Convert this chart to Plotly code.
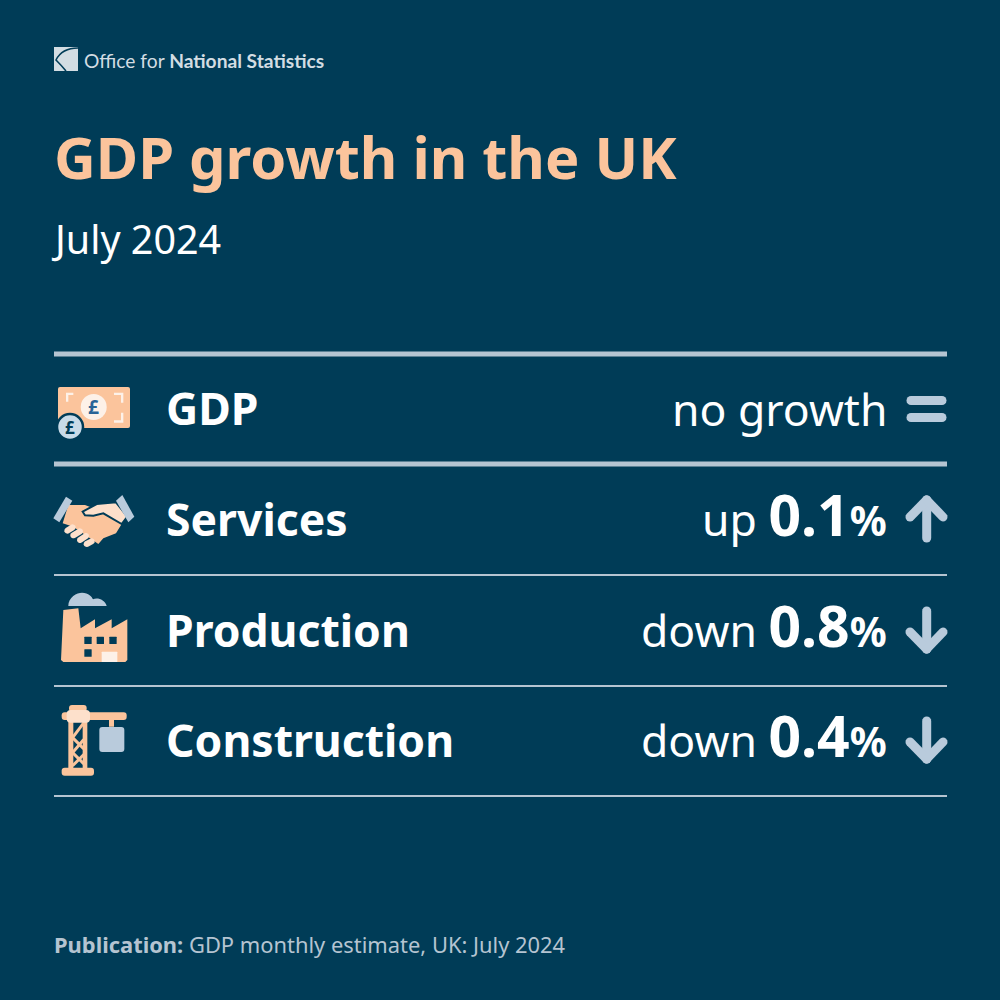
import math
import plotly.graph_objects as go

# chart content
categories = ['GDP', 'Services', 'Production', 'Construction']
directions = ['no growth', 'up', 'down', 'down']
changes = [None, 0.1, 0.8, 0.4]
title = 'GDP growth in the UK'
period = 'July 2024'

BG = '#003c57'
PEACH = '#fbc49c'
PALE = '#fde0cb'
CREAM = '#fdf1e8'
BLUE = '#b9cbdc'
RULE = '#b5c4d1'
FONT = 'Noto Sans'

row_mid = [409, 520, 631, 741]
rules = [(354, 5), (464, 5), (575, 2), (686, 2), (796, 2)]

fig = go.Figure()
shapes = []


def add_path(d, fill, line=None, width=0):
    shapes.append(dict(type='path', path=d, fillcolor=fill, xref='x', yref='y', layer='above',
                       line=dict(color=line or fill, width=width)))


def poly(pts, ox, oy, s, fill, line=None, width=0):
    d = 'M' + ' L'.join(f'{ox + x * s:.2f},{oy + y * s:.2f}' for x, y in pts) + ' Z'
    add_path(d, fill, line, width)


def capsule(x0, y0, x1, y1, w, fill):
    # stroke with round ends, drawn as a polygon
    ang = math.atan2(y1 - y0, x1 - x0)
    pts = []
    for cx, cy, start in ((x1, y1, ang - math.pi / 2), (x0, y0, ang + math.pi / 2)):
        for i in range(9):
            a = start + math.pi * i / 8
            pts.append((cx + w / 2 * math.cos(a), cy + w / 2 * math.sin(a)))
    poly(pts, 0, 0, 1, fill)


def rrect(x0, y0, x1, y1, r, fill):
    add_path(f'M{x0 + r},{y0} L{x1 - r},{y0} Q{x1},{y0} {x1},{y0 + r} L{x1},{y1 - r} Q{x1},{y1} {x1 - r},{y1} '
             f'L{x0 + r},{y1} Q{x0},{y1} {x0},{y1 - r} L{x0},{y0 + r} Q{x0},{y0} {x0 + r},{y0} Z', fill)


def circle(cx, cy, r, fill, line=None, width=0):
    shapes.append(dict(type='circle', x0=cx - r, x1=cx + r, y0=cy - r, y1=cy + r, xref='x', yref='y',
                       fillcolor=fill, layer='above', line=dict(color=line or fill, width=width)))


# rules
for y, w in rules:
    shapes.append(dict(type='line', x0=54, x1=947, y0=y, y1=y, xref='x', yref='y',
                       line=dict(color=RULE, width=w)))

# logo
rrect(54, 47, 78, 71, 0.5, '#d3dde3')
add_path('M78,48 Q62,48 56,60 Q62,66 66,71', 'rgba(0,0,0,0)', BG, 1.6)
add_path('M54,47 L60,47 Q57,50 54,54 Z', '#d3dde3')

# banknote
rrect(58, 387, 130, 428, 2, PEACH)
for pts in ([(78, 68), (100, 68), (100, 75), (85, 75), (85, 95), (78, 95)],
            [(222, 68), (250, 68), (250, 98), (243, 98), (243, 75), (222, 75)],
            [(243, 128), (250, 128), (250, 158), (222, 158), (222, 151), (243, 151)]):
    poly(pts, 40, 370, 1 / 3, CREAM)
circle(93.7, 407, 13, CREAM)
circle(70, 427, 13, '#c9dbe8', BG, 2.5)
for cx, cy, size, col in ((93.7, 407, 19, '#2a6496'), (70, 427, 17, BG)):
    fig.add_annotation(x=cx, y=cy, text='<b>£</b>', showarrow=False, xanchor='center', yanchor='middle',
                       font=dict(family=FONT, size=size, color=col))

# handshake
poly([(85, 405), (135, 405), (200, 430), (245, 462), (228, 490), (190, 505), (175, 522), (150, 505),
      (100, 470), (68, 460)], 40, 370, 1 / 3, PEACH)
poly([(128, 425), (170, 402), (228, 397), (262, 440), (245, 462), (190, 430), (160, 437), (135, 436)],
     40, 370, 1 / 3, PALE, BG, 2)
poly([(40, 445), (78, 380), (97, 392), (58, 457)], 40, 370, 1 / 3, BLUE)
poly([(228, 392), (247, 375), (283, 440), (265, 457)], 40, 370, 1 / 3, BLUE)
for a, b in (((82, 482), (98, 472)), ((100, 496), (120, 484)), ((120, 510), (138, 498)), ((140, 522), (155, 514))):
    capsule(40 + a[0] / 3, 370 + a[1] / 3, 40 + b[0] / 3, 370 + b[1] / 3, 6, PALE)

# factory
add_path('M68.3,606 C68.3,597 77,592.7 82,592.7 C88.7,592.7 92,597 93,599.3 C97,597 105,599.3 106.7,606 Z', BLUE)
poly([(70, 90), (115, 85), (122, 145), (165, 118), (165, 145), (215, 118), (215, 145), (262, 118),
      (262, 240), (256, 246), (70, 246), (63, 240)], 40, 580, 1 / 3, PEACH)
for x0, y0 in ((133, 170), (170, 170), (208, 170), (133, 208)):
    rrect(40 + x0 / 3, 580 + y0 / 3, 40 + (x0 + 22) / 3, 580 + (y0 + 22) / 3, 0.5, BG)
rrect(40 + 185 / 3, 580 + 215 / 3, 40 + 232 / 3, 580 + 246 / 3, 0.5, CREAM)

# crane
rrect(40 + 85 / 3, 580 + 420 / 3, 40 + 100 / 3, 580 + 570 / 3, 0, PEACH)
rrect(40 + 128 / 3, 580 + 420 / 3, 40 + 142 / 3, 580 + 570 / 3, 0, PEACH)
for a, b in (((100, 470), (130, 430)), ((100, 475), (130, 505)), ((100, 555), (130, 525)), ((100, 515), (130, 480)), ((100, 520), (130, 550))):
    capsule(40 + a[0] / 3, 580 + a[1] / 3, 40 + b[0] / 3, 580 + b[1] / 3, 3, PEACH)
rrect(40 + 65 / 3, 580 + 563 / 3, 40 + 162 / 3, 580 + 587 / 3, 3, PEACH)
rrect(40 + 65 / 3, 580 + 397 / 3, 40 + 260 / 3, 580 + 420 / 3, 3, PEACH)
rrect(40 + 87 / 3, 580 + 375 / 3, 40 + 140 / 3, 580 + 395 / 3, 3, PEACH)
rrect(40 + 80 / 3, 580 + 390 / 3, 40 + 150 / 3, 580 + 428 / 3, 4, PALE)
rrect(40 + 207 / 3, 580 + 420 / 3, 40 + 222 / 3, 580 + 440 / 3, 0, PEACH)
rrect(40 + 178 / 3, 580 + 441 / 3, 40 + 253 / 3, 580 + 516 / 3, 3, BLUE)

# direction marks and row text
for cat, word, val, y in zip(categories, directions, changes, row_mid):
    fig.add_annotation(x=164, y=y - 2, text=f'<b>{cat}</b>', showarrow=False, xanchor='left', yanchor='middle',
                       font=dict(family=FONT, size=44.5, color='white'))
    if val is None:
        fig.add_annotation(x=889, y=y - 1, text=word, showarrow=False, xanchor='right', yanchor='middle',
                           font=dict(family=FONT, size=44.5, color='white'))
    else:
        label = (f'{word} <b><span style="font-size:57px">{val}</span>'
                 f'<span style="font-size:41px">%</span></b>')
        fig.add_annotation(x=889, y=y - 6, text=label, showarrow=False, xanchor='right', yanchor='middle',
                           font=dict(family=FONT, size=44.5, color='white'))
    if word == 'up':
        capsule(926.7, y - 20, 926.7, y + 18, 9, BLUE)
        capsule(926.7, y - 20, 910, y - 3, 9, BLUE)
        capsule(926.7, y - 20, 943, y - 3, 9, BLUE)
    elif word == 'down':
        capsule(926.7, y - 20, 926.7, y + 18, 9, BLUE)
        capsule(926.7, y + 18, 910, y + 1, 9, BLUE)
        capsule(926.7, y + 18, 943, y + 1, 9, BLUE)
    else:
        capsule(911, y - 8.5, 942, y - 8.5, 9, BLUE)
        capsule(911, y + 8.5, 942, y + 8.5, 9, BLUE)

# heading, logo text, footer
fig.add_annotation(x=82, y=60, text='Office for <b>National Statistics</b>', showarrow=False, xanchor='left',
                   yanchor='middle', font=dict(family='Lato', size=19.2, color='#d3dde3'))
fig.add_annotation(x=52, y=156, text=f'<b>{title}</b>', showarrow=False, xanchor='left', yanchor='middle',
                   font=dict(family=FONT, size=57.8, color=PEACH))
fig.add_annotation(x=49, y=239, text=period, showarrow=False, xanchor='left', yanchor='middle',
                   font=dict(family=FONT, size=39.5, color='white'))
fig.add_annotation(x=52, y=944, text='<b>Publication:</b> GDP monthly estimate, UK: July 2024', showarrow=False,
                   xanchor='left', yanchor='middle', font=dict(family=FONT, size=21.9, color=RULE))

fig.update_layout(width=1000, height=1000, margin=dict(l=0, r=0, t=0, b=0), paper_bgcolor=BG, plot_bgcolor=BG,
                  showlegend=False, shapes=shapes,
                  xaxis=dict(range=[0, 1000], visible=False, fixedrange=True),
                  yaxis=dict(range=[1000, 0], visible=False, fixedrange=True))

fig.write_html("out.html", config=dict(displayModeBar=False),
               post_script="document.body.style.margin='0';document.body.style.background='#003c57';")
